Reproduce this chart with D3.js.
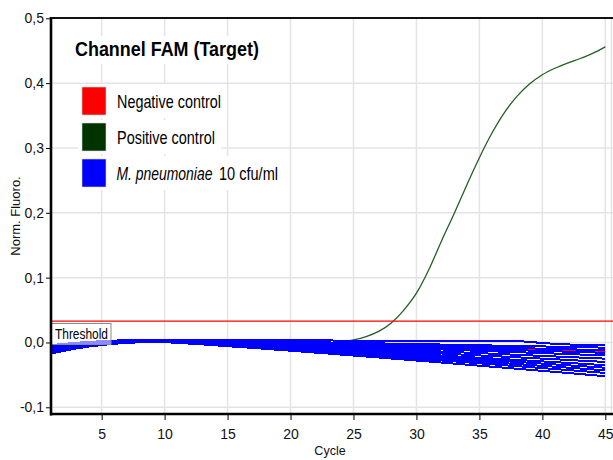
<!DOCTYPE html>
<html><head><meta charset="utf-8">
<script src="https://cdn.jsdelivr.net/npm/d3@7"></script>
<style>body{margin:0;background:#fff}svg{display:block}</style>
</head><body><svg id="chart" width="613" height="460"></svg>
<script>
const cycles = [1,2,3,4,5,6,7,8,9,10,11,12,13,14,15,16,17,18,19,20,21,22,23,24,25,26,27,28,29,30,31,32,33,34,35,36,37,38,39,40,41,42,43,44,45];

const negativeControl = [-0.009,-0.006,-0.004,-0.002,-0.001,0.000,0.001,0.002,0.002,0.002,0.002,0.001,0.001,0.000,-0.001,-0.001,-0.002,-0.002,-0.003,-0.003,-0.004,-0.004,-0.005,-0.005,-0.006,-0.006,-0.007,-0.007,-0.007,-0.008,-0.008,-0.008,-0.009,-0.009,-0.009,-0.010,-0.010,-0.010,-0.011,-0.011,-0.012,-0.012,-0.013,-0.013,-0.014];

const positiveControl = [-0.008,-0.005,-0.003,-0.001,0.000,0.001,0.002,0.002,0.002,0.002,0.001,0.001,0.000,0.000,-0.001,-0.001,-0.002,-0.002,-0.003,-0.003,-0.003,-0.002,-0.001,0.001,0.004,0.009,0.017,0.030,0.050,0.076,0.113,0.157,0.199,0.243,0.285,0.323,0.355,0.380,0.399,0.413,0.423,0.431,0.438,0.446,0.456];

const sample1 = [-0.0040,-0.0021,-0.0005,0.0009,0.0020,0.0029,0.0035,0.0039,0.0040,0.0040,0.0041,0.0042,0.0042,0.0043,0.0044,0.0043,0.0042,0.0041,0.0039,0.0037,0.0035,0.0033,0.0031,0.0029,0.0027,0.0026,0.0025,0.0025,0.0025,0.0025,0.0026,0.0027,0.0028,0.0030,0.0030,0.0029,0.0028,0.0020,0.0010,-0.0010,-0.0020,-0.0030,-0.0038,-0.0040,-0.0040];
const sample2 = [-0.0060,-0.0037,-0.0016,0.0001,0.0015,0.0026,0.0034,0.0038,0.0040,0.0040,0.0038,0.0035,0.0032,0.0029,0.0026,0.0023,0.0020,0.0016,0.0013,0.0010,0.0006,0.0003,0.0000,-0.0004,-0.0007,-0.0011,-0.0014,-0.0018,-0.0021,-0.0025,-0.0028,-0.0032,-0.0036,-0.0039,-0.0043,-0.0047,-0.0050,-0.0054,-0.0058,-0.0061,-0.0065,-0.0069,-0.0072,-0.0076,-0.0080];
const sample3 = [-0.0070,-0.0045,-0.0024,-0.0006,0.0009,0.0020,0.0028,0.0033,0.0035,0.0035,0.0032,0.0028,0.0025,0.0021,0.0017,0.0013,0.0009,0.0004,0.0000,-0.0004,-0.0008,-0.0013,-0.0017,-0.0022,-0.0026,-0.0031,-0.0035,-0.0040,-0.0044,-0.0049,-0.0053,-0.0058,-0.0063,-0.0067,-0.0072,-0.0077,-0.0082,-0.0086,-0.0091,-0.0096,-0.0101,-0.0105,-0.0110,-0.0115,-0.0120];
const sample4 = [-0.0080,-0.0054,-0.0032,-0.0013,0.0003,0.0015,0.0023,0.0028,0.0030,0.0030,0.0026,0.0022,0.0017,0.0013,0.0008,0.0003,-0.0002,-0.0007,-0.0013,-0.0018,-0.0023,-0.0029,-0.0034,-0.0039,-0.0045,-0.0050,-0.0056,-0.0061,-0.0067,-0.0073,-0.0078,-0.0084,-0.0090,-0.0095,-0.0101,-0.0107,-0.0113,-0.0119,-0.0125,-0.0130,-0.0136,-0.0142,-0.0148,-0.0154,-0.0160];
const sample5 = [-0.0090,-0.0062,-0.0038,-0.0017,0.0000,0.0013,0.0023,0.0028,0.0030,0.0030,0.0025,0.0020,0.0015,0.0009,0.0003,-0.0003,-0.0009,-0.0015,-0.0022,-0.0028,-0.0034,-0.0041,-0.0047,-0.0054,-0.0061,-0.0067,-0.0074,-0.0081,-0.0088,-0.0094,-0.0101,-0.0108,-0.0115,-0.0122,-0.0129,-0.0136,-0.0143,-0.0150,-0.0157,-0.0164,-0.0171,-0.0178,-0.0186,-0.0193,-0.0200];
const sample6 = [-0.0100,-0.0071,-0.0045,-0.0024,-0.0006,0.0007,0.0017,0.0023,0.0025,0.0025,0.0020,0.0013,0.0007,0.0000,-0.0007,-0.0015,-0.0022,-0.0029,-0.0037,-0.0044,-0.0052,-0.0060,-0.0067,-0.0075,-0.0083,-0.0091,-0.0099,-0.0107,-0.0115,-0.0124,-0.0132,-0.0140,-0.0148,-0.0157,-0.0165,-0.0173,-0.0182,-0.0190,-0.0199,-0.0207,-0.0216,-0.0224,-0.0233,-0.0241,-0.0250];
const sample7 = [-0.0110,-0.0078,-0.0051,-0.0028,-0.0009,0.0006,0.0017,0.0023,0.0025,0.0025,0.0019,0.0011,0.0003,-0.0005,-0.0013,-0.0022,-0.0030,-0.0039,-0.0048,-0.0057,-0.0066,-0.0075,-0.0084,-0.0094,-0.0103,-0.0112,-0.0122,-0.0131,-0.0141,-0.0151,-0.0160,-0.0170,-0.0180,-0.0190,-0.0200,-0.0209,-0.0219,-0.0229,-0.0239,-0.0249,-0.0259,-0.0269,-0.0280,-0.0290,-0.0300];
const sample8 = [-0.0120,-0.0087,-0.0059,-0.0035,-0.0015,0.0000,0.0011,0.0018,0.0020,0.0020,0.0013,0.0004,-0.0005,-0.0014,-0.0024,-0.0033,-0.0043,-0.0053,-0.0063,-0.0073,-0.0084,-0.0094,-0.0104,-0.0115,-0.0126,-0.0137,-0.0147,-0.0158,-0.0169,-0.0180,-0.0191,-0.0202,-0.0213,-0.0224,-0.0236,-0.0247,-0.0258,-0.0269,-0.0281,-0.0292,-0.0304,-0.0315,-0.0327,-0.0339,-0.0350];
const sample9 = [-0.0130,-0.0095,-0.0064,-0.0039,-0.0018,-0.0001,0.0011,0.0018,0.0020,0.0020,0.0012,0.0002,-0.0007,-0.0018,-0.0028,-0.0039,-0.0050,-0.0061,-0.0072,-0.0083,-0.0095,-0.0106,-0.0118,-0.0130,-0.0142,-0.0153,-0.0165,-0.0177,-0.0190,-0.0201,-0.0214,-0.0226,-0.0238,-0.0251,-0.0263,-0.0276,-0.0288,-0.0301,-0.0313,-0.0326,-0.0339,-0.0352,-0.0364,-0.0377,-0.0390];
const sample10 = [-0.0140,-0.0104,-0.0072,-0.0046,-0.0024,-0.0007,0.0005,0.0013,0.0015,0.0015,0.0006,-0.0004,-0.0015,-0.0026,-0.0038,-0.0049,-0.0061,-0.0073,-0.0085,-0.0097,-0.0110,-0.0122,-0.0135,-0.0147,-0.0160,-0.0173,-0.0186,-0.0199,-0.0212,-0.0225,-0.0239,-0.0252,-0.0265,-0.0279,-0.0293,-0.0306,-0.0320,-0.0333,-0.0347,-0.0361,-0.0374,-0.0388,-0.0402,-0.0416,-0.0430];
const sample11 = [-0.0160,-0.0120,-0.0086,-0.0056,-0.0033,-0.0014,-0.0001,0.0007,0.0010,0.0010,0.0000,-0.0011,-0.0022,-0.0034,-0.0047,-0.0059,-0.0072,-0.0085,-0.0098,-0.0111,-0.0124,-0.0138,-0.0151,-0.0165,-0.0179,-0.0193,-0.0207,-0.0221,-0.0235,-0.0249,-0.0264,-0.0278,-0.0292,-0.0307,-0.0322,-0.0336,-0.0351,-0.0365,-0.0380,-0.0395,-0.0410,-0.0425,-0.0440,-0.0455,-0.0470];
const sample12 = [-0.0170,-0.0129,-0.0093,-0.0063,-0.0039,-0.0020,-0.0006,0.0002,0.0005,0.0005,-0.0006,-0.0018,-0.0030,-0.0043,-0.0057,-0.0071,-0.0084,-0.0098,-0.0113,-0.0127,-0.0142,-0.0157,-0.0171,-0.0187,-0.0202,-0.0217,-0.0232,-0.0248,-0.0263,-0.0279,-0.0294,-0.0310,-0.0326,-0.0342,-0.0358,-0.0374,-0.0390,-0.0406,-0.0422,-0.0438,-0.0454,-0.0471,-0.0487,-0.0504,-0.0520];

const threshold = 0.033;
const xTickValues = [5,10,15,20,25,30,35,40,45];
const yTickValues = [-0.1,0,0.1,0.2,0.3,0.4,0.5];
const yTickLabels = ["-0,1","0,0","0,1","0,2","0,3","0,4","0,5"];
const legendTitle = "Channel FAM (Target)";
const legendColors = ["#ff0000","#003300","#0000ff"];

const samples = [sample1,sample2,sample3,sample4,sample5,sample6,sample7,sample8,sample9,sample10,sample11,sample12];

const svg = d3.select("#chart");
const L = 51, T = 18, R = 613, B = 414;
const x = d3.scaleLinear().domain([1,45]).range([51.3,605.3]);
const y = d3.scaleLinear().domain([-0.1,0.5]).range([407.3,18.3]);
const font = "'Liberation Sans', Arial, sans-serif";

// place a text so it spans width w (horizontal condensing like the original's narrow font)
function fitText(parent, str, px, py, w, size, opts={}) {
  const t = parent.append("text").attr("x",0).attr("y",0).attr("font-family",font)
    .attr("font-size",size).attr("fill","#000")
    .attr("font-weight",opts.bold?"bold":"normal").attr("font-style",opts.italic?"italic":"normal").text(str);
  const nat = t.node().getComputedTextLength();
  t.attr("transform",`translate(${px},${py}) scale(${w/nat},1)`);
  return t;
}

// grid
const grid = svg.append("g").attr("stroke","#e4e4e4").attr("stroke-width",1.5);
xTickValues.forEach(v => grid.append("line").attr("x1",x(v)).attr("x2",x(v)).attr("y1",T).attr("y2",B));
grid.append("line").attr("x1",611.5).attr("x2",611.5).attr("y1",T).attr("y2",B);
yTickValues.forEach(v => grid.append("line").attr("x1",L).attr("x2",R).attr("y1",y(v)).attr("y2",y(v)));

const line = d3.line().x((d,i)=>x(cycles[i])).y(d=>y(d));
const smooth = d3.line().x((d,i)=>x(cycles[i])).y(d=>y(d)).curve(d3.curveMonotoneX);

svg.append("path").datum(negativeControl).attr("d",line).attr("fill","none")
  .attr("stroke","#ff0000").attr("stroke-width",1.5);
svg.append("path").datum(positiveControl).attr("d",smooth).attr("fill","none")
  .attr("stroke","#235f23").attr("stroke-width",1.3);
svg.append("g").selectAll("path").data(samples).join("path")
  .attr("d",line).attr("fill","none").attr("stroke","#0000ff")
  .attr("stroke-width",2).attr("shape-rendering","crispEdges");

// threshold
svg.append("line").attr("x1",L).attr("x2",R).attr("y1",y(threshold)).attr("y2",y(threshold))
  .attr("stroke","#ff0000").attr("stroke-width",1.2);
svg.append("rect").attr("x",L).attr("y",323.5).attr("width",60).attr("height",21)
  .attr("fill","#ffffff").attr("fill-opacity",0.55).attr("stroke","#8a8a8a").attr("stroke-width",1);
fitText(svg, "Threshold", 55, 338.5, 53, 14);

// legend
const lg = svg.append("g");
lg.append("rect").attr("x",68).attr("y",36).attr("width",200).attr("height",28).attr("fill","#fff");
fitText(lg, legendTitle, 75, 56, 184, 20, {bold:true});
const rows = [
  {parts:[{t:"Negative control",i:false,x:117,w:104}], w:104, top:87},
  {parts:[{t:"Positive control",i:false,x:117,w:98}], w:98, top:123},
  {parts:[{t:"M. pneumoniae",i:true,x:116.5,w:96},{t:"10 cfu/ml",i:false,x:219,w:59}], w:162, top:159}
];
rows.forEach((r,k)=>{
  lg.append("rect").attr("x",78).attr("y",r.top-3).attr("width",117-78+r.w+6).attr("height",34).attr("fill","#fff");
  lg.append("rect").attr("x",82).attr("y",r.top).attr("width",24).attr("height",28)
    .attr("fill",legendColors[k]).attr("stroke","#d8d8d8").attr("stroke-width",0.6);
  r.parts.forEach(p=> fitText(lg, p.t, p.x, r.top+20.5, p.w, 18, {italic:p.i}));
});

// axes
const ya = svg.append("g").attr("transform",`translate(${L},0)`)
  .call(d3.axisLeft(y).tickValues(yTickValues).tickFormat((d,i)=>yTickLabels[i]).tickSize(5).tickPadding(2));
const xa = svg.append("g").attr("transform",`translate(0,${B})`)
  .call(d3.axisBottom(x).tickValues(xTickValues).tickSize(6).tickPadding(9));
[ya,xa].forEach(a=>{
  a.select(".domain").remove();
  a.selectAll("text").attr("font-family",font).attr("font-size",14).attr("fill","#111");
  a.selectAll("line").attr("stroke","#000");
});
svg.append("line").attr("x1",L).attr("x2",L).attr("y1",T-1).attr("y2",B+1.5).attr("stroke","#000").attr("stroke-width",2.6);
svg.append("line").attr("x1",L-1).attr("x2",R).attr("y1",B).attr("y2",B).attr("stroke","#000").attr("stroke-width",2.6);
svg.append("line").attr("x1",L).attr("x2",R).attr("y1",T).attr("y2",T).attr("stroke","#111").attr("stroke-width",2.2);

svg.append("text").attr("x",330).attr("y",455).attr("text-anchor","middle")
  .attr("font-family",font).attr("font-size",12.5).attr("fill","#111").text("Cycle");
svg.append("text").attr("transform","translate(20,216) rotate(-90)").attr("text-anchor","middle")
  .attr("font-family",font).attr("font-size",13).attr("fill","#111").text("Norm. Fluoro.");
</script></body></html>
